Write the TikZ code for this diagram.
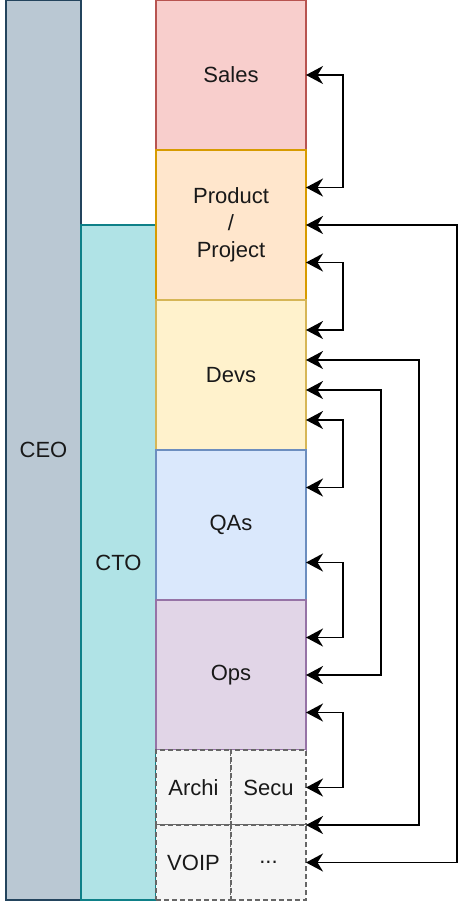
\documentclass[tikz,border=0pt]{standalone}
\usepackage{fontspec}
\setmainfont{Liberation Sans}
\usetikzlibrary{arrows.meta,calc}

\definecolor{ceo fill}{HTML}{BAC8D3}
\definecolor{ceo line}{HTML}{23445D}
\definecolor{cto fill}{HTML}{B0E3E6}
\definecolor{cto line}{HTML}{0E8088}
\definecolor{sales fill}{HTML}{F8CECC}
\definecolor{sales line}{HTML}{B85450}
\definecolor{product fill}{HTML}{FFE6CC}
\definecolor{product line}{HTML}{D79B00}
\definecolor{devs fill}{HTML}{FFF2CC}
\definecolor{devs line}{HTML}{D6B656}
\definecolor{qas fill}{HTML}{DAE8FC}
\definecolor{qas line}{HTML}{6C8EBF}
\definecolor{ops fill}{HTML}{E1D5E7}
\definecolor{ops line}{HTML}{9673A6}
\definecolor{misc fill}{HTML}{F5F5F5}
\definecolor{misc line}{HTML}{666666}

\begin{document}
\begin{tikzpicture}[x=1pt,y=-1pt,
        team/.style={draw,rectangle,inner sep=0pt,outer sep=0pt,line width=1.3pt,
           font=\fontsize{22}{27}\selectfont,text=black!90,align=center},
        lane/.style={team,minimum width=75pt,anchor=north west},
        dept/.style={team,minimum width=150pt,minimum height=150pt,anchor=north west},
        cell/.style={team,minimum width=75pt,minimum height=75pt,anchor=north west,
           dash pattern=on 5pt off 3pt,draw=misc line,fill=misc fill},
        link/.style={line width=1.8pt,{Stealth[length=17pt,width=18pt,inset=5.5pt]}-{Stealth[length=17pt,width=18pt,inset=5.5pt]}},
    ]
    \useasboundingbox (0,0) rectangle (462,903);
    % management lanes
    \node[lane,minimum height=900pt,fill=ceo fill,draw=ceo line] (ceo) at (6,0) {CEO};
    \node[lane,minimum height=675pt,fill=cto fill,draw=cto line] (cto) at (81,225) {CTO};
    % departments
    \node[dept,fill=sales fill,draw=sales line] (sales) at (156,0) {Sales};
    \node[dept,fill=product fill,draw=product line] (product) at (156,150) {Product\\/\\Project};
    \node[dept,fill=devs fill,draw=devs line] (devs) at (156,300) {Devs};
    \node[dept,fill=qas fill,draw=qas line] (qas) at (156,450) {QAs};
    \node[dept,fill=ops fill,draw=ops line] (ops) at (156,600) {Ops};
    \node[cell] (archi) at (156,750) {Archi};
    \node[cell] (secu) at (231,750) {Secu};
    \node[cell] (voip) at (156,825) {VOIP};
    \node[cell] (dots) at (231,825) {...};
    % links
    \draw[link] (sales.east) -- +(37,0)
        |- ($(product.north east)!.25!(product.south east)$);
    \draw[link] (product.east) -- +(151,0) |- (dots.east);
    \draw[link] ($(product.north east)!.75!(product.south east)$) -- +(37,0)
        |- ($(devs.north east)!.2!(devs.south east)$);
    \draw[link] ($(devs.north east)!.4!(devs.south east)$) -- +(113,0)
        |- (secu.south east);
    \draw[link] ($(devs.north east)!.6!(devs.south east)$) -- +(75,0)
        |- (ops.east);
    \draw[link] ($(devs.north east)!.8!(devs.south east)$) -- +(37,0)
        |- ($(qas.north east)!.25!(qas.south east)$);
    \draw[link] ($(qas.north east)!.75!(qas.south east)$) -- +(37,0)
        |- ($(ops.north east)!.25!(ops.south east)$);
    \draw[link] ($(ops.north east)!.75!(ops.south east)$) -- +(37,0)
        |- (secu.east);
\end{tikzpicture}
\end{document}
